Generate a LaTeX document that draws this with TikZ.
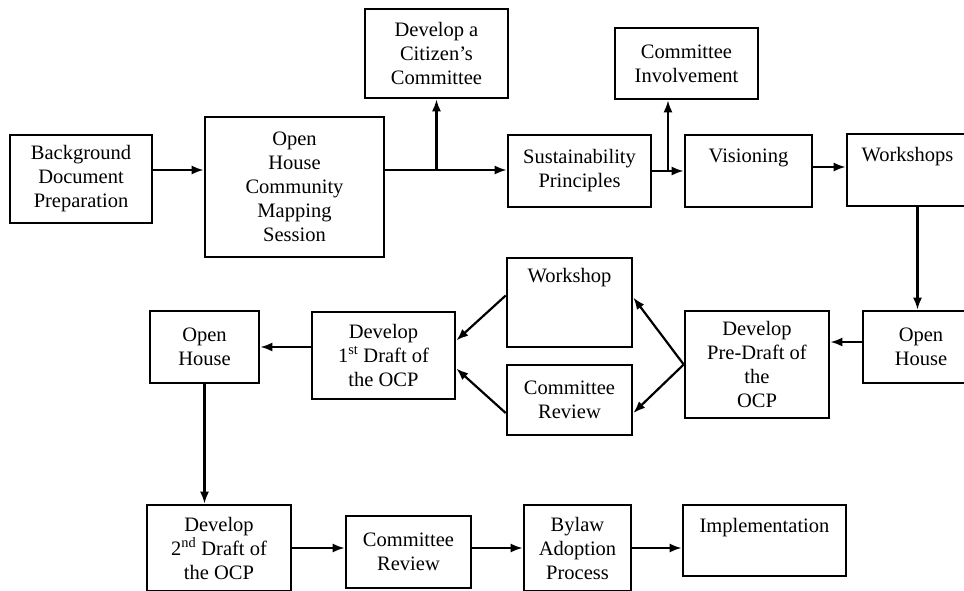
\documentclass[tikz,border=0pt]{standalone}
\usepackage{fontspec}
\setmainfont{Liberation Serif}
\usetikzlibrary{arrows.meta, calc}

\begin{document}
\begin{tikzpicture}[x=1pt, y=-1pt,
  box/.style={draw, line width=2.6pt, fill=white, align=center, inner sep=1pt,
    font=\fontsize{20.5}{24}\selectfont},
  flow/.style={line width=2.2pt, -{Latex[length=12pt,width=9pt]}}]
\clip (0,0) rectangle (964,590);
% top row
\node[box, minimum width=142, minimum height=88] (bg) at (81,179) {Background\\Document\\Preparation};
\node[box, minimum width=179, minimum height=140] (map) at (294.5,187) {Open\\House\\Community\\Mapping\\Session};
\node[box, minimum width=143, minimum height=89] (cit) at (436.5,53.5) {Develop a\\Citizen's\\Committee};
\node[box, minimum width=143, minimum height=72] (sus) at (579.5,171) {Sustainability\\Principles};
\node[box, minimum width=143, minimum height=71] (inv) at (686.5,63.5) {Committee\\Involvement};
\node[box, minimum width=127, minimum height=72] (vis) at (748.5,171) {Visioning\\\strut};
\node[box, minimum width=121, minimum height=72] (wks) at (907.5,170) {Workshops\\\strut};
% middle row
\node[box, minimum width=116, minimum height=72] (oh1) at (921,347) {Open\\House};
\node[box, minimum width=144, minimum height=107] (pre) at (757,364.5) {Develop\\Pre-Draft of\\the\\OCP};
\node[box, minimum width=125, minimum height=89] (ws) at (569.5,302.5) {Workshop\\\strut\\\strut};
\node[box, minimum width=125, minimum height=70] (crv) at (569.5,400) {Committee\\Review};
\node[box, minimum width=143, minimum height=87] (d1) at (383.5,355.5) {Develop\\1\textsuperscript{st} Draft of\\the OCP};
\node[box, minimum width=109, minimum height=72] (oh2) at (204.5,347) {Open\\House};
% bottom row
\node[box, minimum width=144, minimum height=86] (d2) at (219,548) {Develop\\2\textsuperscript{nd} Draft of\\the OCP};
\node[box, minimum width=125, minimum height=72] (crb) at (408.5,552) {Committee\\Review};
\node[box, minimum width=107, minimum height=86] (byl) at (577.5,548) {Bylaw\\Adoption\\Process};
\node[box, minimum width=163, minimum height=71] (imp) at (764.5,540.5) {Implementation\\\strut};

\coordinate (rowA) at (0,170);
\coordinate (fork) at ($(sus.east)!0.5!(vis.west)$);
\draw[flow] (bg.east |- rowA) -- (map.west |- rowA);
\draw[flow] (map.east |- rowA) -- (sus.west |- rowA);
\draw[flow] (cit.south |- rowA) -- (cit.south);
\draw[flow] (sus.east) -- (vis.west);
\draw[flow] (fork) -- (fork |- inv.south);
\draw[flow] ([yshift=4pt]vis.east) -- ([yshift=4pt]vis.east -| wks.west);
\draw[flow] ([xshift=10pt]wks.south) -- ([xshift=10pt]wks.south |- oh1.north);
\draw[flow] ([yshift=5pt]oh1.west) -- ([yshift=5pt]oh1.west -| pre.east);
\draw[flow] (pre.west) -- ([yshift=5pt]ws.east);
\draw[flow] (pre.west) -- ([yshift=-13pt]crv.east);
\draw[flow] ([yshift=7pt]ws.west) -- ([yshift=15pt]d1.east);
\draw[flow] ([yshift=-13pt]crv.west) -- ([yshift=-13pt]d1.east);
\draw[flow] (d1.west |- oh2.east) -- (oh2.east);
\draw[flow] (oh2.south) -- (oh2.south |- d2.north);
\draw[flow] (d2.east) -- (crb.west |- d2.east);
\draw[flow] (crb.east |- byl.west) -- (byl.west);
\draw[flow] (byl.east) -- (imp.west |- byl.east);
\end{tikzpicture}
\end{document}
